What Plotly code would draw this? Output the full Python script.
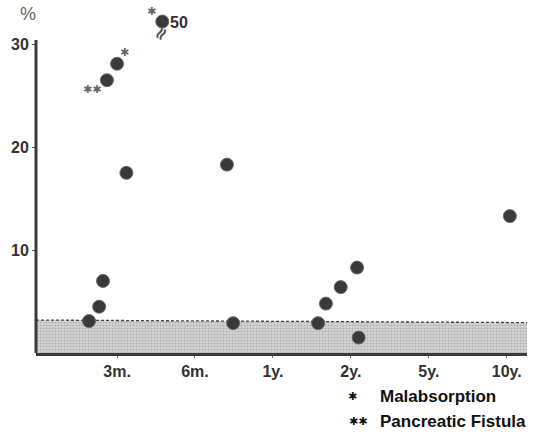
import plotly.graph_objects as go

# ---- data ----
tick_pos = [1, 2, 3, 4, 5, 6]
tick_labels = ["3m.", "6m.", "1y.", "2y.", "5y.", "10y."]
y_ticks = [10, 20, 30]
y_tick_labels = ["10", "20", "30"]

time_pos = [0.64, 0.77, 0.82, 0.87, 1.00, 1.12, 1.58, 2.41, 2.49, 3.58, 3.68, 3.87, 4.08, 4.10, 6.04]
pct = [3.1, 4.5, 7.0, 26.5, 28.1, 17.5, 32.2, 18.3, 2.9, 2.9, 4.8, 6.4, 8.3, 1.5, 13.3]

# markers: index of point -> label
marks_idx = [3, 4, 6]
marks_txt = ["✱✱", "✱", "✱"]
broken_idx = 6
broken_value = "50"

band_x = [-0.04, 6.26]
band_top = [3.2, 2.95]

legend_sym = ["✱", "✱✱"]
legend_txt = ["Malabsorption", "Pancreatic Fistula"]

# ---- figure ----
fig = go.Figure()

fig.add_trace(go.Scatter(
    x=band_x, y=band_top, mode="lines",
    line=dict(color="#444444", width=1.3, dash="3px,2px"),
    fill="tozeroy",
    fillcolor="#d0d0d0",
    fillpattern=dict(shape=".", fgcolor="#8a8a8a", bgcolor="#d6d6d6", size=3, solidity=0.4),
    hoverinfo="skip", showlegend=False,
))

fig.add_trace(go.Scatter(
    x=time_pos, y=pct, mode="markers",
    marker=dict(size=13, color="#393939", line=dict(width=1, color="#6a6a6a")),
    showlegend=False, cliponaxis=False, hoverinfo="skip",
))

ann = []
offsets = {3: (-15, -9), 4: (7, 11), 6: (-11, 10)}
for i, t in zip(marks_idx, marks_txt):
    dx, dy = offsets[i]
    ann.append(dict(x=time_pos[i], y=pct[i], text=t, showarrow=False,
                    xshift=dx, yshift=dy, xanchor="center", yanchor="middle", borderpad=0,
                    font=dict(family="DejaVu Sans", size=11, color="#666666")))
ann.append(dict(x=time_pos[broken_idx], y=pct[broken_idx], text="<b>≈</b>", showarrow=False,
                xshift=-2, yshift=-12, textangle=-60, xanchor="center", yanchor="middle",
                font=dict(family="DejaVu Sans", size=18, color="#555555")))
ann.append(dict(x=time_pos[broken_idx], y=pct[broken_idx], text="<b>" + broken_value + "</b>",
                showarrow=False, xshift=17, yshift=-1, xanchor="center", yanchor="middle",
                font=dict(family="Liberation Sans", size=16, color="#333333")))

# y-axis title
ann.append(dict(x=-0.016, y=0.969, xref="paper", yref="paper", text="%", showarrow=False,
                xanchor="center", yanchor="middle",
                font=dict(family="Liberation Sans", size=18, color="#666666")))

# legend text
sym_x = [0.6436, 0.656]
for k, (s, t) in enumerate(zip(legend_sym, legend_txt)):
    yp = -0.1257 - k * 0.0714
    ann.append(dict(x=sym_x[k], y=yp, xref="paper", yref="paper", text=s,
                    showarrow=False, xanchor="center", yanchor="middle",
                    font=dict(family="DejaVu Sans", size=11, color="#111111")))
    ann.append(dict(x=0.6965, y=yp, xref="paper", yref="paper", text="<b>" + t + "</b>",
                    showarrow=False, xanchor="left", yanchor="middle",
                    font=dict(family="Liberation Sans", size=17, color="#111111")))

fig.update_layout(
    width=538, height=436,
    margin=dict(l=36, r=11, t=3, b=83),
    paper_bgcolor="white", plot_bgcolor="white",
    annotations=ann,
    hovermode=False,
    shapes=[dict(type="line", xref="paper", yref="y", x0=0, x1=0, y0=0, y1=30.4,
                 line=dict(color="#3a3a3a", width=3))],
)

fig.update_xaxes(
    range=[-0.04, 6.26], tickvals=tick_pos, ticktext=["<b>" + t + "</b>" for t in tick_labels],
    showgrid=False, zeroline=False, showline=True, linecolor="#3a3a3a", linewidth=3,
    ticks="outside", ticklen=2, tickcolor="#666666",
    tickfont=dict(family="Liberation Sans", size=16, color="#333333"),
)
fig.update_yaxes(
    range=[0, 34], tickvals=y_ticks, ticktext=["<b>" + t + "</b>" for t in y_tick_labels],
    showgrid=False, zeroline=False, showline=False,
    ticks="outside", ticklen=3, tickcolor="#555555",
    tickfont=dict(family="Liberation Sans", size=16, color="#333333"),
)

fig.write_html("out.html", config={"displayModeBar": False},
               post_script="document.body.style.margin='0';")
